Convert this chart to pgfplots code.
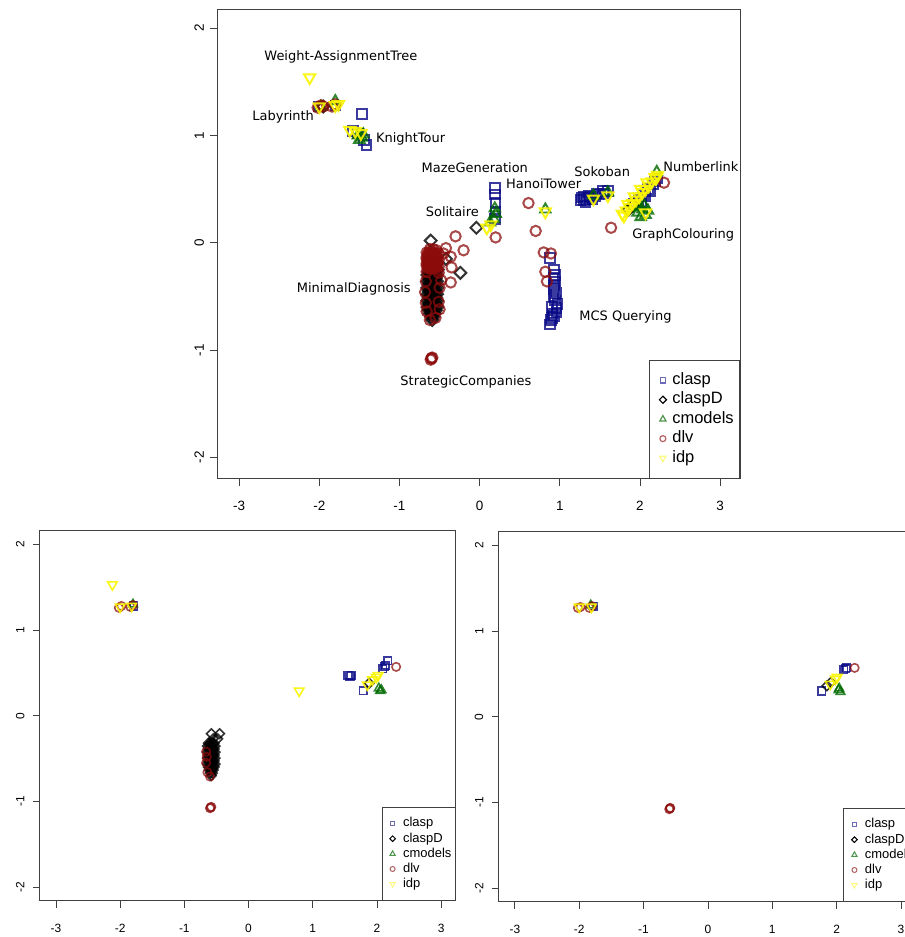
\documentclass[border=0pt]{standalone}
\usepackage{pgfplots}
\pgfplotsset{compat=1.18}
\usepackage{fontspec}
\setmainfont{Liberation Sans}
\newfontfamily\dejavu{DejaVu Sans}
\definecolor{cClasp}{RGB}{10,10,135}
\definecolor{cClaspD}{RGB}{0,0,0}
\definecolor{cCmod}{RGB}{0,105,0}
\definecolor{cDlv}{RGB}{140,12,12}
\definecolor{cIdp}{RGB}{250,245,0}
\pgfplotsset{
  rstyle/.style={
    scale only axis,
    axis line style={black!75, line width=1pt},
    xtick={-3,-2,-1,0,1,2,3}, ytick={-2,-1,0,1,2},
    xticklabels={-3,-2,-1,0,1,2,3},
    yticklabels={-2,-1,0,1,2},
    tick align=outside, xtick pos=left, ytick pos=left,
    major tick length=7pt,
    tick style={black!75, line width=0.8pt},
    yticklabel style={rotate=90, anchor=south},
    xticklabel shift=12pt, yticklabel shift=3pt,
  },
  pclasp/.style 2 args={only marks, color=cClasp, mark=square, mark size=#1, mark options={line width=#2, opacity=0.8}},
  pclaspD/.style 2 args={only marks, color=cClaspD, mark=square, mark size=#1, mark options={rotate=45, line width=#2, opacity=0.8}},
  pcmod/.style 2 args={only marks, color=cCmod, mark=triangle, mark size=#1, mark options={line width=#2, opacity=0.8}},
  pdlv/.style 2 args={only marks, color=cDlv, mark=o, mark size=#1, mark options={line width=#2, opacity=0.75}},
  pidp/.style 2 args={only marks, color=cIdp, mark=triangle, mark size=#1, mark options={rotate=180, line width=#2, opacity=0.9}},
  limg/.style 2 args={legend image code/.code={\path[draw=none,fill=none] (0pt,0pt) -- (#1,0pt); \draw[##1, only marks] plot coordinates {(#2,0pt)};}},
}
\begin{document}
\begin{tikzpicture}[trim left=0pt, trim right=907pt]
\path (0pt,0pt) rectangle (907pt,937pt);
% ================= TOP =================
\begin{axis}[rstyle,
  at={(218pt,457pt)}, anchor=south west,
  width=524pt, height=470pt,
  xmin=-3.27, xmax=3.25, ymin=-2.2, ymax=2.17,
  ticklabel style={font=\fontsize{13.5}{14}\selectfont},
  legend style={at={(1,0)}, anchor=south east, draw=black!75, line width=1pt, fill=white,
    font=\fontsize{16.5}{17}\selectfont, inner xsep=4.5pt, inner ysep=10.5pt,
    nodes={inner sep=1.5pt, text height=12.5pt, text depth=4pt}},
  legend cell align=left,
  limg={17pt}{9pt},
]
\addlegendimage{only marks, mark=square, mark size=2.8pt, color=cClasp!60, mark options={line width=1.2pt}}
\addlegendimage{only marks, mark=square, mark size=2.5pt, color=black, mark options={rotate=45, line width=1.2pt}}
\addlegendimage{only marks, mark=triangle, mark size=3.6pt, color=cCmod!70, mark options={line width=1.2pt}}
\addlegendimage{only marks, mark=o, mark size=3pt, color=cDlv!65, mark options={line width=1.2pt}}
\addlegendimage{only marks, mark=triangle, mark size=3.6pt, color=cIdp!50, mark options={rotate=180, line width=1.2pt}}
\legend{clasp,claspD,cmodels,dlv,idp}
\addplot+[pclasp={4.8pt}{2pt}, forget plot] coordinates {
(-2.00,1.27) (-1.80,1.28) (-1.47,1.20)
(-1.58,1.04) (-1.52,1.02) (-1.44,0.96) (-1.41,0.91)
(0.19,0.51) (0.19,0.45) (0.20,0.37) (0.20,0.29) (0.19,0.22)
(0.88,-0.14) (0.93,-0.25) (0.94,-0.30) (0.94,-0.36) (0.93,-0.43) (0.92,-0.50) (0.94,-0.54)
(0.97,-0.57) (0.90,-0.60) (0.96,-0.65) (0.93,-0.68) (0.89,-0.72) (0.88,-0.76) (0.91,-0.66)
(0.95,-0.47) (0.92,-0.33) (0.96,-0.61) (0.93,-0.40) (0.90,-0.70)
(1.26,0.40) (1.30,0.40) (1.34,0.41) (1.38,0.42) (1.44,0.43) (1.50,0.45) (1.56,0.46) (1.60,0.48) (1.30,0.43)
(1.28,0.42) (1.36,0.44) (1.46,0.46) (1.54,0.48) (1.32,0.38) (1.41,0.41)
(1.92,0.36) (1.98,0.40) (2.04,0.45) (2.10,0.50) (2.16,0.55) (2.22,0.60) (2.07,0.43) (2.13,0.48) (2.19,0.57) (2.01,0.38)
};
\addplot+[pclaspD={4.2pt}{2pt}, forget plot] coordinates {
(-1.95,1.27) (-0.04,0.14) (-0.61,0.02) (-0.42,-0.15) (-0.24,-0.28)
(-0.62,-0.20) (-0.58,-0.24) (-0.52,-0.25)
(-0.635,-0.27) (-0.605,-0.27) (-0.575,-0.27) (-0.545,-0.27)
(-0.65,-0.30) (-0.62,-0.30) (-0.59,-0.30) (-0.56,-0.30) (-0.53,-0.30)
(-0.635,-0.33) (-0.605,-0.33) (-0.575,-0.33) (-0.545,-0.33)
(-0.65,-0.36) (-0.62,-0.36) (-0.59,-0.36) (-0.56,-0.36) (-0.53,-0.36)
(-0.635,-0.39) (-0.605,-0.39) (-0.575,-0.39) (-0.545,-0.39)
(-0.65,-0.42) (-0.62,-0.42) (-0.59,-0.42) (-0.56,-0.42) (-0.53,-0.42)
(-0.635,-0.45) (-0.605,-0.45) (-0.575,-0.45) (-0.545,-0.45)
(-0.65,-0.48) (-0.62,-0.48) (-0.59,-0.48) (-0.56,-0.48) (-0.53,-0.48)
(-0.635,-0.51) (-0.605,-0.51) (-0.575,-0.51) (-0.545,-0.51)
(-0.65,-0.54) (-0.62,-0.54) (-0.59,-0.54) (-0.56,-0.54) (-0.53,-0.54)
(-0.635,-0.57) (-0.605,-0.57) (-0.575,-0.57) (-0.545,-0.57)
(-0.65,-0.60) (-0.62,-0.60) (-0.59,-0.60) (-0.56,-0.60) (-0.53,-0.60)
(-0.635,-0.63) (-0.605,-0.63) (-0.575,-0.63) (-0.545,-0.63)
(-0.62,-0.66) (-0.59,-0.66) (-0.56,-0.66)
(-0.605,-0.69) (-0.575,-0.69)
(-0.59,-0.72)
(1.86,0.31) (1.91,0.35)
};
\addplot+[pcmod={6pt}{2pt}, forget plot] coordinates {
(-1.80,1.32) (-1.98,1.27)
(-1.52,1.00) (-1.47,0.98) (-1.50,0.96) (-1.45,1.01)
(0.20,0.27) (0.18,0.22) (0.13,0.19) (0.19,0.32)
(0.82,0.31)
(1.42,0.44) (1.60,0.47)
(1.97,0.28) (2.03,0.31) (2.07,0.26) (2.01,0.24) (2.05,0.35) (2.10,0.30) (1.99,0.33)
(2.21,0.66)
};
\addplot+[pdlv={5.2pt}{2pt}, forget plot] coordinates {
(-2.02,1.26) (-1.98,1.28) (-1.95,1.27) (-1.84,1.27) (-1.80,1.29)
(0.20,0.05) (0.61,0.37) (0.70,0.11)
(0.80,-0.09) (0.89,-0.10) (0.82,-0.27) (0.84,-0.36)
(1.64,0.14) (2.30,0.56)
(-0.30,0.06) (-0.20,-0.07) (-0.42,-0.05) (-0.36,-0.13) (-0.35,-0.23) (-0.36,-0.37) (-0.45,-0.10)
(-0.62,-0.06) (-0.58,-0.06) (-0.54,-0.07)
(-0.66,-0.09) (-0.63,-0.09) (-0.60,-0.09) (-0.57,-0.09) (-0.54,-0.10) (-0.51,-0.10)
(-0.645,-0.105) (-0.615,-0.105) (-0.585,-0.105) (-0.555,-0.105)
(-0.645,-0.12) (-0.615,-0.12) (-0.585,-0.12) (-0.555,-0.12) (-0.525,-0.13)
(-0.66,-0.135) (-0.63,-0.135) (-0.60,-0.135) (-0.57,-0.135) (-0.54,-0.135)
(-0.66,-0.15) (-0.63,-0.15) (-0.60,-0.15) (-0.57,-0.15) (-0.54,-0.15) (-0.51,-0.16)
(-0.645,-0.165) (-0.615,-0.165) (-0.585,-0.165) (-0.555,-0.165)
(-0.645,-0.18) (-0.615,-0.18) (-0.585,-0.18) (-0.555,-0.18) (-0.525,-0.19)
(-0.66,-0.195) (-0.63,-0.195) (-0.60,-0.195) (-0.57,-0.195) (-0.54,-0.195)
(-0.66,-0.21) (-0.63,-0.21) (-0.60,-0.21) (-0.57,-0.21) (-0.54,-0.21) (-0.51,-0.22)
(-0.645,-0.225) (-0.615,-0.225) (-0.585,-0.225) (-0.555,-0.225)
(-0.645,-0.24) (-0.615,-0.24) (-0.585,-0.24) (-0.555,-0.24) (-0.525,-0.25)
(-0.66,-0.27) (-0.51,-0.28)
(-0.48,-0.35) (-0.50,-0.42) (-0.67,-0.36) (-0.68,-0.46) (-0.67,-0.56) (-0.66,-0.64)
(-0.62,-0.72) (-0.55,-0.70) (-0.51,-0.55) (-0.50,-0.62)
(-0.60,-1.08) (-0.61,-1.09) (-0.59,-1.07) (-0.60,-1.075)
};
\addplot+[pidp={6.5pt}{2pt}, forget plot] coordinates {
(-2.12,1.54)
(-2.00,1.27) (-1.80,1.28) (-1.76,1.29)
(-1.62,1.05) (-1.55,1.04) (-1.48,1.02)
(0.09,0.14) (0.14,0.17) (0.82,0.29)
(1.42,0.41) (1.60,0.44)
(1.78,0.27) (1.83,0.30) (1.87,0.33) (1.91,0.37) (1.95,0.40) (1.99,0.43) (2.03,0.47)
(2.07,0.50) (2.11,0.53) (2.15,0.57) (2.19,0.61) (2.22,0.63) (2.07,0.28) (1.80,0.25)
(1.85,0.36) (1.93,0.43) (2.01,0.50) (2.09,0.56)
(2.20,0.60)
};
\node[font=\dejavu\fontsize{13}{14}\selectfont] at (axis cs:-1.73,1.73) {Weight-AssignmentTree};
\node[font=\dejavu\fontsize{13}{14}\selectfont] at (axis cs:-2.45,1.17) {Labyrinth};
\node[font=\dejavu\fontsize{13}{14}\selectfont] at (axis cs:-0.86,0.97) {KnightTour};
\node[font=\dejavu\fontsize{13}{14}\selectfont] at (axis cs:-0.06,0.70) {MazeGeneration};
\node[font=\dejavu\fontsize{13}{14}\selectfont] at (axis cs:0.80,0.55) {HanoiTower};
\node[font=\dejavu\fontsize{13}{14}\selectfont] at (axis cs:-0.34,0.29) {Solitaire};
\node[font=\dejavu\fontsize{13}{14}\selectfont] at (axis cs:1.53,0.66) {Sokoban};
\node[font=\dejavu\fontsize{13}{14}\selectfont] at (axis cs:2.76,0.71) {Numberlink};
\node[font=\dejavu\fontsize{13}{14}\selectfont] at (axis cs:2.54,0.07) {GraphColouring};
\node[font=\dejavu\fontsize{13}{14}\selectfont] at (axis cs:-1.57,-0.43) {MinimalDiagnosis};
\node[font=\dejavu\fontsize{13}{14}\selectfont] at (axis cs:1.82,-0.69) {MCS Querying};
\node[font=\dejavu\fontsize{13}{14}\selectfont] at (axis cs:-0.17,-1.30) {StrategicCompanies};
\end{axis}
% ================= BOTTOM LEFT =================
\begin{axis}[rstyle,
  at={(40pt,34pt)}, anchor=south west,
  width=417pt, height=371pt,
  xmin=-3.25, xmax=3.23, ymin=-2.16, ymax=2.16,
  ticklabel style={font=\fontsize{12}{13}\selectfont},
  yticklabel shift=5pt, xticklabel shift=13pt,
  legend style={at={(1,0)}, anchor=south east, draw=black!75, line width=1pt, fill=white,
    font=\fontsize{13}{14}\selectfont, inner xsep=3pt, inner ysep=8.5pt,
    nodes={inner sep=1pt, text height=10pt, text depth=3.2pt}},
  legend cell align=left,
  limg={17pt}{7.5pt},
]
\addlegendimage{only marks, mark=square, mark size=2.3pt, color=cClasp!60, mark options={line width=1pt}}
\addlegendimage{only marks, mark=square, mark size=2pt, color=black, mark options={rotate=45, line width=1pt}}
\addlegendimage{only marks, mark=triangle, mark size=3pt, color=cCmod!70, mark options={line width=1pt}}
\addlegendimage{only marks, mark=o, mark size=2.5pt, color=cDlv!65, mark options={line width=1pt}}
\addlegendimage{only marks, mark=triangle, mark size=3pt, color=cIdp!50, mark options={rotate=180, line width=1pt}}
\legend{clasp,claspD,cmodels,dlv,idp}
\addplot+[pclasp={3.8pt}{1.6pt}, forget plot] coordinates {
(-1.79,1.28) (1.55,0.47) (1.60,0.47) (1.58,0.46) (1.79,0.29)
(2.09,0.55) (2.12,0.57) (2.14,0.59) (2.17,0.64)
};
\addplot+[pclaspD={3.4pt}{1.6pt}, forget plot] coordinates {
(-0.58,-0.21) (-0.45,-0.21) (-0.48,-0.27) (-0.55,-0.27)
(-0.625,-0.32) (-0.595,-0.32) (-0.565,-0.32) (-0.535,-0.32)
(-0.64,-0.355) (-0.61,-0.355) (-0.58,-0.355) (-0.55,-0.355) (-0.52,-0.355)
(-0.625,-0.39) (-0.595,-0.39) (-0.565,-0.39) (-0.535,-0.39)
(-0.64,-0.425) (-0.61,-0.425) (-0.58,-0.425) (-0.55,-0.425) (-0.52,-0.425)
(-0.625,-0.46) (-0.595,-0.46) (-0.565,-0.46) (-0.535,-0.46)
(-0.64,-0.495) (-0.61,-0.495) (-0.58,-0.495) (-0.55,-0.495) (-0.52,-0.495)
(-0.625,-0.53) (-0.595,-0.53) (-0.565,-0.53) (-0.535,-0.53)
(-0.64,-0.565) (-0.61,-0.565) (-0.58,-0.565) (-0.55,-0.565) (-0.52,-0.565)
(-0.625,-0.60) (-0.595,-0.60) (-0.565,-0.60) (-0.535,-0.60)
(-0.61,-0.635) (-0.58,-0.635) (-0.55,-0.635)
(-0.595,-0.67) (-0.565,-0.67)
(-0.58,-0.70)
(1.88,0.38)
};
\addplot+[pcmod={5pt}{1.6pt}, forget plot] coordinates {
(-1.80,1.30) (2.03,0.32) (2.05,0.29) (2.07,0.30)
};
\addplot+[pdlv={4.2pt}{1.6pt}, forget plot] coordinates {
(-2.02,1.26) (-1.98,1.28) (-1.84,1.27) (-1.80,1.29) (2.30,0.57)
(-0.66,-0.42) (-0.65,-0.48) (-0.66,-0.55) (-0.64,-0.66) (-0.60,-0.71)
(-0.59,-1.07) (-0.60,-1.08) (-0.58,-1.065)
};
\addplot+[pidp={5.5pt}{1.6pt}, forget plot] coordinates {
(-2.12,1.53) (-2.00,1.27) (-1.82,1.28) (0.79,0.29)
(1.85,0.36) (1.93,0.42) (1.99,0.45) (2.02,0.47)
};
\end{axis}
% ================= BOTTOM RIGHT =================
\begin{axis}[rstyle,
  at={(500pt,33pt)}, anchor=south west,
  width=420pt, height=371pt,
  xmin=-3.25, xmax=3.26, ymin=-2.16, ymax=2.16,
  ticklabel style={font=\fontsize{12}{13}\selectfont},
  yticklabel shift=5pt, xticklabel shift=13pt,
  legend style={at={(1,0)}, anchor=south east, draw=black!75, line width=1pt, fill=white,
    font=\fontsize{13}{14}\selectfont, inner xsep=3pt, inner ysep=8.5pt,
    nodes={inner sep=1pt, text height=10pt, text depth=3.2pt}},
  legend cell align=left,
  limg={17pt}{7.5pt},
]
\addlegendimage{only marks, mark=square, mark size=2.3pt, color=cClasp!60, mark options={line width=1pt}}
\addlegendimage{only marks, mark=square, mark size=2pt, color=black, mark options={rotate=45, line width=1pt}}
\addlegendimage{only marks, mark=triangle, mark size=3pt, color=cCmod!70, mark options={line width=1pt}}
\addlegendimage{only marks, mark=o, mark size=2.5pt, color=cDlv!65, mark options={line width=1pt}}
\addlegendimage{only marks, mark=triangle, mark size=3pt, color=cIdp!50, mark options={rotate=180, line width=1pt}}
\legend{clasp,claspD,cmodels,dlv,idp}
\addplot+[pclasp={3.8pt}{1.6pt}, forget plot] coordinates {
(-1.78,1.29) (1.77,0.30) (2.11,0.55) (2.14,0.56) (2.16,0.57)
};
\addplot+[pclaspD={3.4pt}{1.6pt}, forget plot] coordinates {
(1.85,0.36) (1.91,0.40)
};
\addplot+[pcmod={5pt}{1.6pt}, forget plot] coordinates {
(-1.82,1.30) (2.03,0.31) (2.06,0.29) (2.04,0.33)
};
\addplot+[pdlv={4.2pt}{1.6pt}, forget plot] coordinates {
(-2.02,1.27) (-1.98,1.28) (-1.84,1.27) (-1.80,1.29) (2.28,0.57)
(-0.59,-1.07) (-0.60,-1.08) (-0.585,-1.065)
};
\addplot+[pidp={5.5pt}{1.6pt}, forget plot] coordinates {
(-2.00,1.28) (-1.81,1.28) (1.90,0.38) (1.98,0.44) (2.01,0.46)
};
\end{axis}
\end{tikzpicture}
\end{document}
